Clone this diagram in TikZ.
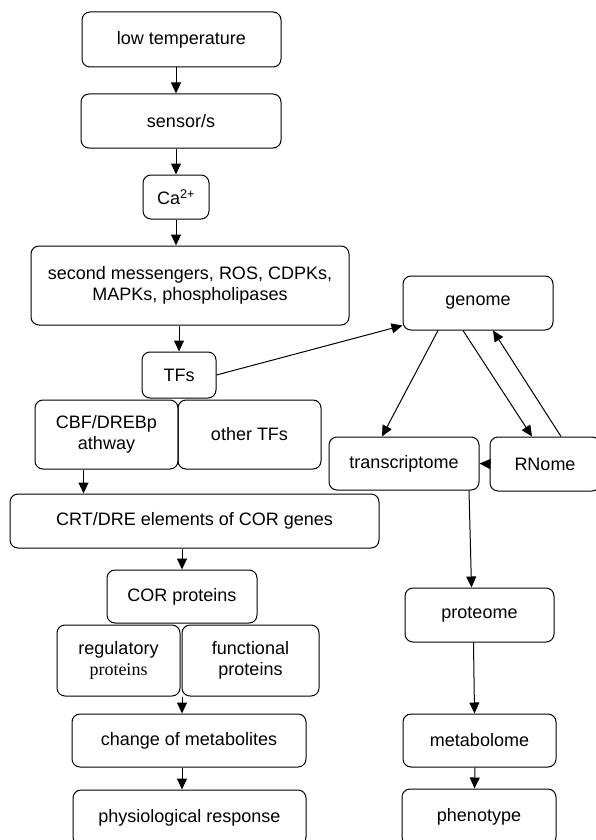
\documentclass[tikz,border=0pt]{standalone}
\usepackage{fontspec}
\setmainfont{Liberation Sans}
\newfontfamily\timesface{Liberation Serif}
\usetikzlibrary{arrows.meta}

\begin{document}
\begin{tikzpicture}[x = 1pt, y = -1pt, line width = 1pt,
	box/.style = {draw, rounded corners = 8pt, align = center, inner sep = 2pt, font = \fontsize{18}{21.5}\selectfont},
	every edge/.style = {draw, -{Triangle[length = 11pt, width = 10pt]}}]
	\useasboundingbox (0,0) rectangle (595,840);
	\path
	(181.5,39.5) node[box, minimum width = 199pt, minimum height = 55pt](lowtemp){low temperature}
	(181,121) node[box, minimum width = 200pt, minimum height = 54pt](sensor){sensor/s}
	(176,197) node[box, minimum width = 66pt, minimum height = 44pt](ca){Ca\textsuperscript{2+}}
	(190,285.5) node[box, minimum width = 318pt, minimum height = 79pt](second){second messengers, ROS, CDPKs,\\MAPKs, phospholipases}
	(179,375) node[box, minimum width = 74pt, minimum height = 46pt](tfs){TFs}
	(106.5,434.5) node[box, minimum width = 143pt, minimum height = 69pt](cbf){CBF/DREBp\\athway}
	(249.5,434.5) node[box, minimum width = 143pt, minimum height = 69pt](othertfs){other TFs}
	(194.5,521) node[box, minimum width = 369pt, minimum height = 54pt](crt){CRT/DRE elements of COR genes}
	(182,596.5) node[box, minimum width = 150pt, minimum height = 53pt](cor){COR proteins}
	(118.5,660.5) node[box, minimum width = 123pt, minimum height = 71pt](regprot){regulatory\\{\timesface proteins}}
	(250.5,660.5) node[box, minimum width = 137pt, minimum height = 71pt](funcprot){functional\\proteins}
	(189,740.5) node[box, minimum width = 234pt, minimum height = 53pt](change){change of metabolites}
	(189.5,817.5) node[box, minimum width = 233pt, minimum height = 55pt](physio){physiological response}
	(478,303) node[box, minimum width = 150pt, minimum height = 54pt](genome){genome}
	(404,463.5) node[box, minimum width = 150pt, minimum height = 53pt](transcr){transcriptome}
	(545,464) node[box, minimum width = 110pt, minimum height = 54pt](rnome){RNome}
	(479.5,615) node[box, minimum width = 149pt, minimum height = 54pt](proteome){proteome}
	(479.5,740.5) node[box, minimum width = 153pt, minimum height = 53pt](metabolome){metabolome}
	(479,817) node[box, minimum width = 154pt, minimum height = 56pt](phenotype){phenotype}
	;
	\path
	(lowtemp.south -| ca) edge (sensor.north -| ca)
	(sensor.south -| ca) edge (ca.north)
	(ca.south) edge (second.north -| ca)
	(second.south -| tfs) edge (tfs.north)
	(tfs.east) edge ([yshift = 5pt]genome.south west)
	([xshift = -23pt]cbf.south) edge ([xshift = -23pt]cbf.south |- crt.north)
	(crt.south -| cor) edge (cor.north)
	(cor.south |- regprot.south) edge (cor.south |- change.north)
	(change.south -| cor) edge (physio.north -| cor)
	([xshift = -40pt]genome.south) edge ([xshift = -22pt]transcr.north)
	([xshift = -15pt]genome.south) edge ([xshift = -13pt]rnome.north)
	([xshift = 16pt]rnome.north) edge ([xshift = 15pt]genome.south)
	(rnome.west) edge (transcr.east)
	([xshift = 65pt]transcr.south) edge ([xshift = -8pt]proteome.north)
	([xshift = -6pt]proteome.south) edge ([xshift = -5pt]metabolome.north)
	([xshift = -4.5pt]metabolome.south) edge ([xshift = -4.5pt]phenotype.north)
	;
\end{tikzpicture}
\end{document}
